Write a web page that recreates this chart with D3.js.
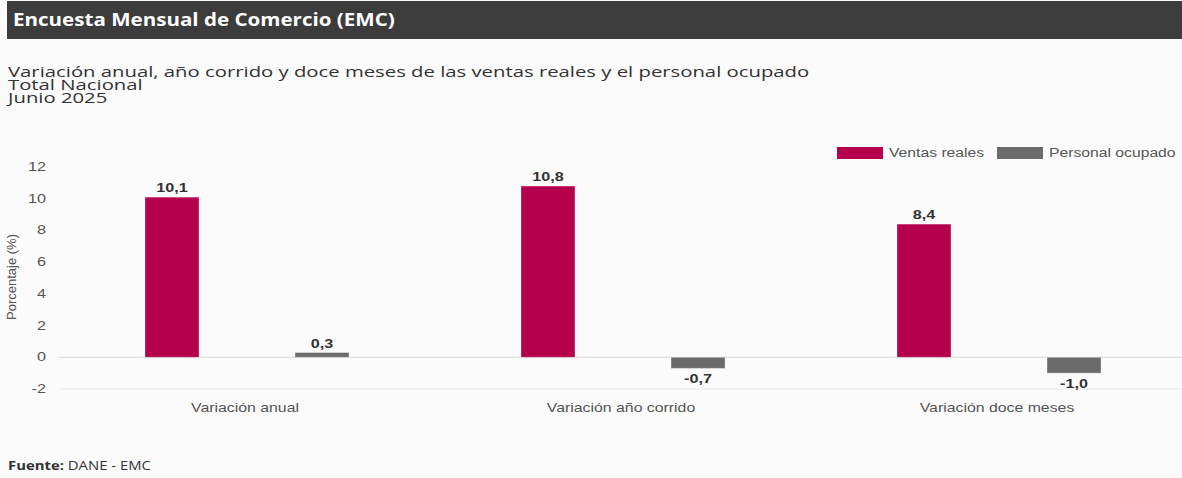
<!DOCTYPE html>
<html>
<head>
<meta charset="utf-8">
<script src="https://cdn.jsdelivr.net/npm/d3@7"></script>
<style>
  body { margin: 0; background: #fbfbfb; }
  svg { display: block; }
</style>
</head>
<body>
<svg id="chart" width="1182" height="478"></svg>
<script>
const categories = ["Variación anual", "Variación año corrido", "Variación doce meses"];
const seriesNames = ["Ventas reales", "Personal ocupado"];
const ventasReales = [10.1, 10.8, 8.4];
const personalOcupado = [0.3, -0.7, -1.0];
const yTicks = [-2, 0, 2, 4, 6, 8, 10, 12];

const colors = { "Ventas reales": "#b5004b", "Personal ocupado": "#6b6b6b" };
const fmt = v => v.toFixed(1).replace(".", ",");

const svg = d3.select("#chart");

// the original text is drawn wide, so widen glyphs around their anchor point
function stretch(sel, f) {
    sel.each(function () {
        const t = d3.select(this);
        const x = +t.attr("x"), y = +t.attr("y");
        t.attr("x", 0).attr("y", 0)
            .attr("transform", `translate(${x},${y}) scale(${f},1)`);
    });
}

// header bar
svg.append("rect")
    .attr("x", 7).attr("y", 1)
    .attr("width", 1175).attr("height", 38)
    .attr("fill", "#3c3c3c");
svg.append("text")
    .attr("x", 13).attr("y", 26)
    .attr("fill", "#fff")
    .style("font-family", "Open Sans")
    .style("font-weight", "bold")
    .style("font-size", "17px")
    .text("Encuesta Mensual de Comercio (EMC)")
    .call(stretch, 1.21);

// subtitles
const subs = ["Variación anual, año corrido y doce meses de las ventas reales y el personal ocupado", "Total Nacional", "Junio 2025"];
svg.selectAll(".sub")
    .data(subs)
    .join("text")
    .attr("class", "sub")
    .attr("x", 8)
    .attr("y", (d, i) => 77 + i * 13)
    .attr("fill", "#333")
    .style("font-family", "Open Sans")
    .style("font-size", "14.5px")
    .text(d => d)
    .call(stretch, 1.4);

// scales
const y = d3.scaleLinear().domain([-2, 12]).range([389, 167]);
const x = d3.scaleBand().domain(categories).range([59, 1187]);
const xs = d3.scaleBand().domain(seriesNames).range([0, x.bandwidth()])
    .paddingInner(0.64).paddingOuter(0.573);

const plotLeft = 59, plotRight = 1182;

// grid lines at 0 and -2
svg.append("line")
    .attr("x1", plotLeft).attr("x2", plotRight)
    .attr("y1", y(0)).attr("y2", y(0))
    .attr("stroke", "#d8d8d8");
svg.append("line")
    .attr("x1", plotLeft).attr("x2", plotRight)
    .attr("y1", y(-2)).attr("y2", y(-2))
    .attr("stroke", "#ececec");

// y tick labels
svg.selectAll(".ytick")
    .data(yTicks)
    .join("text")
    .attr("class", "ytick")
    .attr("x", 46)
    .attr("y", d => y(d) + 4)
    .attr("text-anchor", "end")
    .attr("fill", "#555")
    .style("font-family", "Liberation Sans, Arial")
    .style("font-size", "12px")
    .text(d => d)
    .call(stretch, 1.35);

// y axis title
svg.append("text")
    .attr("transform", "translate(16,277) rotate(-90)")
    .attr("text-anchor", "middle")
    .attr("fill", "#555")
    .style("font-family", "Liberation Sans, Arial")
    .style("font-size", "13px")
    .text("Porcentaje (%)");

// bars
const rows = categories.map((c, i) => ({
    cat: c,
    vals: [
        { name: "Ventas reales", value: ventasReales[i] },
        { name: "Personal ocupado", value: personalOcupado[i] }
    ]
}));

const groups = svg.selectAll(".grp")
    .data(rows)
    .join("g")
    .attr("class", "grp")
    .attr("transform", d => `translate(${x(d.cat)},0)`);

groups.selectAll("rect")
    .data(d => d.vals)
    .join("rect")
    .attr("x", d => xs(d.name))
    .attr("width", xs.bandwidth())
    .attr("y", d => y(Math.max(0, d.value)))
    .attr("height", d => Math.abs(y(d.value) - y(0)))
    .attr("fill", d => colors[d.name])
    .attr("stroke", "rgba(255,255,255,0.35)")
    .attr("stroke-width", 1);

groups.selectAll(".lbl")
    .data(d => d.vals)
    .join("text")
    .attr("class", "lbl")
    .attr("x", d => xs(d.name) + xs.bandwidth() / 2)
    .attr("y", d => d.value >= 0 ? y(d.value) - 5 : y(d.value) + 15)
    .attr("text-anchor", "middle")
    .attr("fill", "#333")
    .style("font-family", "Liberation Sans, Arial")
    .style("font-weight", "bold")
    .style("font-size", "12px")
    .text(d => fmt(d.value))
    .call(stretch, 1.35);

// category labels
svg.selectAll(".xlbl")
    .data(categories)
    .join("text")
    .attr("class", "xlbl")
    .attr("x", d => x(d) + x.bandwidth() / 2 - 2)
    .attr("y", 412)
    .attr("text-anchor", "middle")
    .attr("fill", "#555")
    .style("font-family", "Liberation Sans, Arial")
    .style("font-size", "12px")
    .text(d => d)
    .call(stretch, 1.32);

// legend
const legendX = [837, 997];
const legend = svg.selectAll(".leg")
    .data(seriesNames)
    .join("g")
    .attr("class", "leg")
    .attr("transform", (d, i) => `translate(${legendX[i]},147)`);
legend.append("rect")
    .attr("width", 46).attr("height", 12)
    .attr("fill", d => colors[d]);
legend.append("text")
    .attr("x", 52).attr("y", 10)
    .attr("fill", "#555")
    .style("font-family", "Liberation Sans, Arial")
    .style("font-size", "12px")
    .text(d => d)
    .call(stretch, 1.31);

// footer
const foot = svg.append("text")
    .attr("x", 8).attr("y", 470)
    .attr("fill", "#333")
    .style("font-family", "Open Sans")
    .style("font-size", "12px");
foot.append("tspan").style("font-weight", "bold").text("Fuente: ");
foot.append("tspan").text("DANE - EMC");
foot.call(stretch, 1.24);
</script>
</body>
</html>
